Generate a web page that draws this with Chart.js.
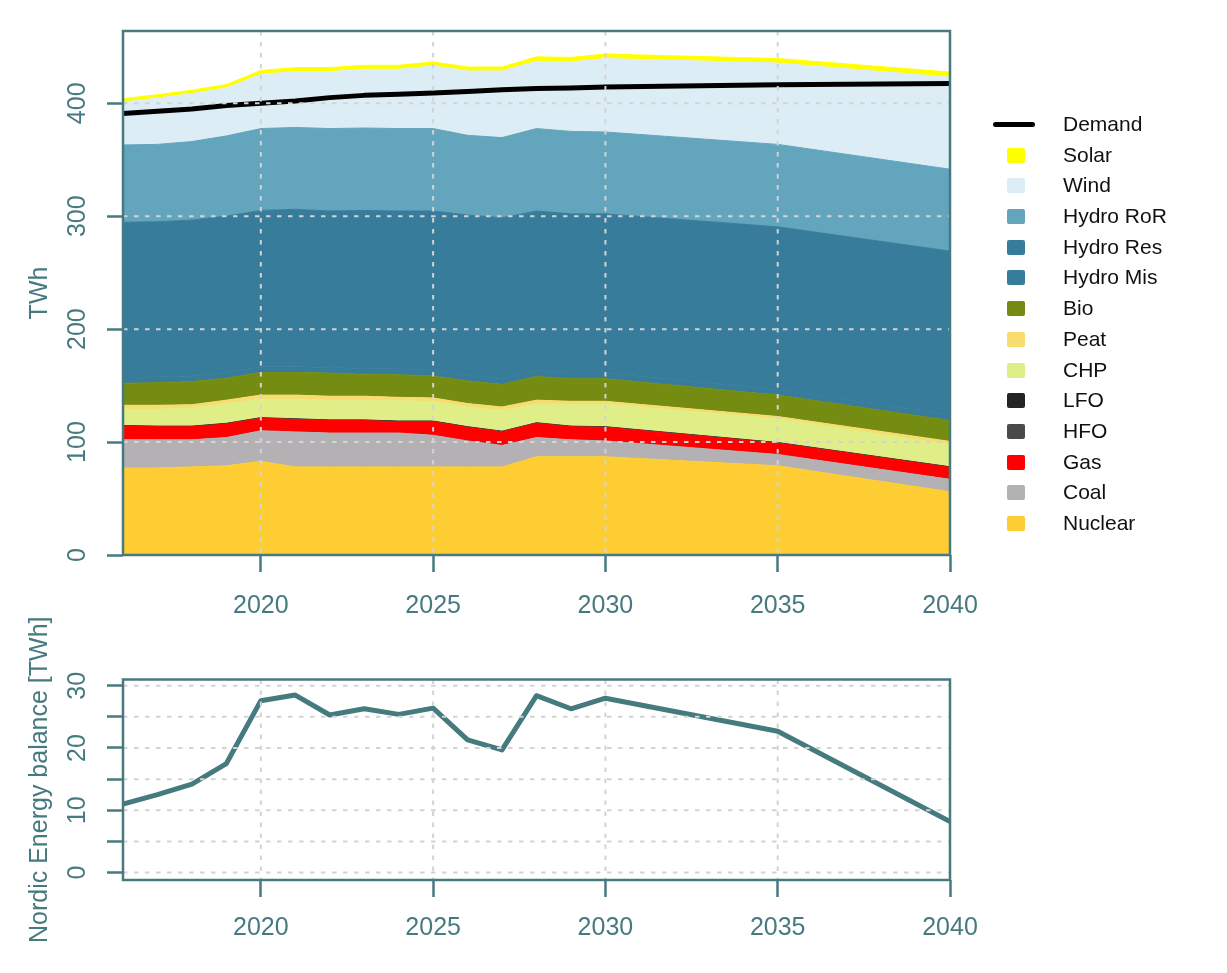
<!DOCTYPE html>
<html>
<head>
<meta charset="utf-8">
<title>Nordic generation and energy balance</title>
<script src="https://cdn.jsdelivr.net/npm/chart.js@4.4.1/dist/chart.umd.min.js"></script>
<style>
  body { margin: 0; background: #fff; }
  #page { position: relative; width: 1227px; height: 973px; overflow: hidden; font-family: 'Liberation Sans', Arial, sans-serif; }
  #topChart { position: absolute; left: 0; top: 0; }
  #bottomChart { position: absolute; left: 0; top: 600px; }
  #legend { position: absolute; left: 990px; top: 109px; }
  .item { position: relative; width: 230px; height: 30.7px; }
  .swatch { position: absolute; left: 17px; top: 8px; width: 18px; height: 15px; border-radius: 2px; }
  .line { position: absolute; left: 3px; top: 13px; width: 42px; height: 5px; border-radius: 3px; background: #000; }
  .text { position: absolute; left: 73px; top: 0; line-height: 30.7px; font-size: 21px; color: #111; white-space: nowrap; }
</style>
</head>
<body>
<div id="page">
  <canvas id="topChart" width="1000" height="640"></canvas>
  <canvas id="bottomChart" width="1000" height="373"></canvas>
  <div id="legend"></div>
</div>
<script>
// years and series (TWh)
const years = [2016, 2017, 2018, 2019, 2020, 2021, 2022, 2023, 2024, 2025, 2026, 2027, 2028, 2029, 2030, 2035, 2040];
const nuclear = [77, 77, 78, 79, 83, 78, 78, 78, 78, 78, 78, 78, 87, 87, 87, 79, 56];
const coal = [25, 25, 24, 25, 27, 31, 30, 30, 30, 28, 23, 19, 17, 15, 14, 10, 11];
const gas = [12, 11.5, 11.5, 12, 11, 11, 11, 11, 10, 12, 12, 12, 12.5, 11.5, 12, 10, 10.5];
const hfo = [0.3, 0.3, 0.3, 0.3, 0.3, 0.3, 0.3, 0.3, 0.3, 0.3, 0.3, 0.3, 0.3, 0.3, 0.3, 0.3, 0.3];
const lfo = [0.3, 0.3, 0.3, 0.3, 0.3, 0.3, 0.3, 0.3, 0.3, 0.3, 0.3, 0.3, 0.3, 0.3, 0.3, 0.3, 0.3];
const chp = [14.5, 15, 16, 17.5, 16.5, 17.5, 17.5, 17.5, 18, 17.5, 17.5, 18.5, 16.5, 19.5, 20, 21, 19.5];
const peat = [3.5, 3.5, 3, 3, 3.5, 3.5, 3.5, 3.5, 3, 3, 3, 3, 3.5, 2.5, 2.5, 2, 3];
const bio = [19.5, 20, 20.5, 19.5, 20, 20, 20.5, 19.5, 20, 19.5, 20, 20, 21, 20, 20, 19, 18.5];
const hydroMis = [5, 5, 5, 5, 5, 5, 5, 5, 5, 5, 5, 5, 5, 5, 5, 5, 5];
const hydroRes = [137.5, 137.5, 138, 138.5, 138.5, 139.5, 138.5, 140, 140, 141, 142, 142.5, 141.5, 141, 141, 144, 145];
const hydroRoR = [68.5, 68.5, 69.5, 71, 72.5, 72.5, 73, 73, 73, 73, 70.5, 71, 73, 73, 72.5, 73, 72.5];
const wind = [38, 41, 42.5, 42.5, 48, 49.5, 50.5, 52, 52.5, 55.5, 57, 59, 59.5, 61.5, 65, 72, 81.5];
const solar = [3, 3, 3, 3, 3.5, 3.5, 3.5, 3.5, 3.5, 3.5, 3.5, 3.5, 4, 4, 4, 4, 4.5];
const demand = [391, 393, 395, 398, 400, 402, 405, 407, 408, 409, 410.5, 412, 413, 413.5, 414.5, 416.5, 417.5];
const balance = [11, 12.5, 14.2, 17.5, 27.6, 28.5, 25.3, 26.3, 25.4, 26.4, 21.3, 19.7, 28.4, 26.3, 28, 22.7, 8.2];

const xTicks = [2020, 2025, 2030, 2035, 2040];
const yTicksTop = [0, 100, 200, 300, 400];
const yTicksBottom = [0, 5, 10, 15, 20, 25, 30];

// stacking order, bottom to top
const areaSeries = [
  { label: 'Nuclear', values: nuclear, color: '#fecd33' },
  { label: 'Coal', values: coal, color: '#b3b1b4' },
  { label: 'Gas', values: gas, color: '#ff0000' },
  { label: 'HFO', values: hfo, color: '#4a4a4a' },
  { label: 'LFO', values: lfo, color: '#232523' },
  { label: 'CHP', values: chp, color: '#dfee86' },
  { label: 'Peat', values: peat, color: '#f8dc6e' },
  { label: 'Bio', values: bio, color: '#758c12' },
  { label: 'Hydro Mis', values: hydroMis, color: '#387c9b' },
  { label: 'Hydro Res', values: hydroRes, color: '#387c9b' },
  { label: 'Hydro RoR', values: hydroRoR, color: '#63a5bd' },
  { label: 'Wind', values: wind, color: '#ddedf6' },
  { label: 'Solar', values: solar, color: '#ffff00' }
];

const axisColor = '#477a80';
const gridColor = '#d3d3d3';

Chart.defaults.font.family = "'Liberation Sans', Arial, sans-serif";
Chart.defaults.font.size = 25;
Chart.defaults.color = axisColor;

const toPoints = vals => years.map((yr, i) => ({ x: yr, y: vals[i] }));

// dotted grid drawn over the areas, then the box round the plot
const plotFrame = {
  id: 'plotFrame',
  afterDatasetsDraw(chart) {
    const { ctx, chartArea: a, scales: { x, y } } = chart;
    ctx.save();
    ctx.beginPath();
    ctx.rect(a.left, a.top, a.width, a.height);
    ctx.clip();
    ctx.strokeStyle = gridColor;
    ctx.lineWidth = 2;
    ctx.setLineDash([4.5, 6.5]);
    ctx.beginPath();
    x.ticks.forEach(t => {
      const px = x.getPixelForValue(t.value);
      ctx.moveTo(px, a.top);
      ctx.lineTo(px, a.bottom);
    });
    y.ticks.forEach(t => {
      const py = y.getPixelForValue(t.value);
      ctx.moveTo(a.left, py);
      ctx.lineTo(a.right, py);
    });
    ctx.stroke();
    ctx.restore();

    ctx.save();
    ctx.strokeStyle = axisColor;
    ctx.lineWidth = 2.5;
    ctx.strokeRect(a.left, a.top, a.width, a.height);
    ctx.restore();
  }
};

function xAxis(height, pad) {
  return {
    type: 'linear',
    min: 2016,
    max: 2040,
    afterBuildTicks: s => { s.ticks = xTicks.map(v => ({ value: v })); },
    afterFit: s => { s.height = height; },
    border: { display: false },
    grid: { drawOnChartArea: false, tickLength: 17, tickColor: axisColor, tickWidth: 2.5 },
    ticks: { padding: pad, autoSkip: false, maxRotation: 0, callback: v => String(v) }
  };
}

function yAxis(min, max, tickVals, title, pad, labelFn) {
  return {
    min: min,
    max: max,
    afterBuildTicks: s => { s.ticks = tickVals.map(v => ({ value: v })); },
    afterFit: s => { s.width = 123; },
    border: { display: false },
    grid: { drawOnChartArea: false, tickLength: 16, tickColor: axisColor, tickWidth: 2.5 },
    ticks: { padding: pad, minRotation: 90, maxRotation: 90, crossAlign: 'center', autoSkip: false, callback: labelFn },
    title: { display: true, text: title, padding: { top: 25, bottom: 0 } }
  };
}

// top: stacked generation + demand line
const topSets = areaSeries.map((s, i) => ({
  label: s.label,
  data: toPoints(s.values),
  backgroundColor: s.color,
  borderColor: s.color,
  borderWidth: 1,
  fill: i === 0 ? 'origin' : '-1',
  pointRadius: 0
}));
topSets.push({
  label: 'Demand',
  data: toPoints(demand),
  borderColor: '#000000',
  borderWidth: 5,
  borderCapStyle: 'round',
  borderJoinStyle: 'round',
  fill: false,
  pointRadius: 0,
  stack: 'demand',
  order: -1
});

const topY = yAxis(0, 464, yTicksTop, 'TWh', 8, v => String(v));
topY.stacked = true;

new Chart(document.getElementById('topChart'), {
  type: 'line',
  data: { datasets: topSets },
  options: {
    responsive: false,
    animation: false,
    events: [],
    layout: { padding: { left: 0, top: 31, right: 50, bottom: 0 } },
    scales: { x: xAxis(85, 19), y: topY },
    plugins: { legend: { display: false }, tooltip: { enabled: false } }
  },
  plugins: [plotFrame]
});

// bottom: energy balance
new Chart(document.getElementById('bottomChart'), {
  type: 'line',
  data: {
    datasets: [{
      label: 'Nordic Energy balance',
      data: toPoints(balance),
      borderColor: '#457a7f',
      borderWidth: 5,
      borderJoinStyle: 'round',
      fill: false,
      pointRadius: 0
    }]
  },
  options: {
    responsive: false,
    animation: false,
    events: [],
    layout: { padding: { left: 0, top: 79.5, right: 50, bottom: 0 } },
    scales: {
      x: xAxis(93, 16),
      y: yAxis(-1.2, 31, yTicksBottom, 'Nordic Energy balance [TWh]', 15, v => (v % 10 === 0 ? String(v) : ''))
    },
    plugins: { legend: { display: false }, tooltip: { enabled: false } }
  },
  plugins: [plotFrame]
});

// legend, same order as the reference
const legendRows = [{ label: 'Demand', line: true }].concat(areaSeries.slice().reverse());
const legendBox = document.getElementById('legend');
legendRows.forEach(r => {
  const row = document.createElement('div');
  row.className = 'item';
  const mark = document.createElement('span');
  mark.className = r.line ? 'line' : 'swatch';
  if (!r.line) mark.style.background = r.color;
  const txt = document.createElement('span');
  txt.className = 'text';
  txt.textContent = r.label;
  row.append(mark, txt);
  legendBox.appendChild(row);
});
</script>
</body>
</html>
